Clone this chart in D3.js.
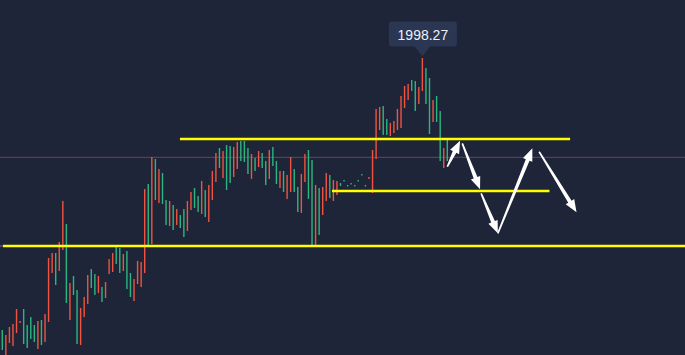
<!DOCTYPE html>
<html><head><meta charset="utf-8">
<script src="https://cdn.jsdelivr.net/npm/d3@7"></script>
<style>html,body{margin:0;padding:0;background:#1e2539;overflow:hidden}</style>
</head><body>
<svg id="chart" width="685" height="355"></svg>
<script>
// ---- data (bar index, high, low, direction 1=up/green 0=down/red) ----
const highs = [1862.27,1859.77,1863.77,1865.27,1872.77,1866.77,1872.77,1864.77,1868.77,1864.77,
1866.77,1867.27,1870.27,1898.27,1900.77,1900.77,1906.27,1926.77,1915.27,1885.77,
1889.27,1882.27,1873.27,1878.77,1889.77,1892.77,1890.27,1889.27,1883.77,1886.27,
1897.77,1900.77,1903.77,1903.27,1900.27,1901.77,1890.77,1887.77,1896.77,1896.27,
1932.77,1935.27,1948.77,1947.77,1942.77,1940.77,1927.27,1926.77,1924.77,1922.77,
1919.77,1922.77,1926.77,1931.27,1933.27,1929.27,1936.77,1932.27,1934.77,1941.77,
1950.77,1953.27,1951.77,1954.77,1954.27,1953.77,1956.27,1956.77,1956.77,1953.27,
1950.27,1948.27,1951.77,1950.77,1946.77,1952.27,1953.77,1946.77,1941.77,1941.77,
1939.77,1948.77,1942.77,1933.77,1940.27,1950.27,1952.27,1947.27,1934.77,1933.27,
1933.77,1940.77,1939.77,1937.27,1936.77,1935.77,1937.27,1934.77,1935.77,1934.77,
1937.27,1940.27,1934.77,1938.77,1952.27,1972.77,1973.77,1974.27,1967.77,1965.77,
1966.77,1972.77,1979.27,1984.27,1985.27,1987.27,1986.77,1983.77,1998.27,1993.27,
1988.27,1977.27,1979.27,1971.77,1953.27,1957.77];
const lows = [1852.27,1849.77,1855.77,1854.27,1860.77,1865.77,1855.27,1853.27,1857.77,1856.27,
1852.77,1854.77,1856.27,1866.27,1890.77,1884.77,1891.77,1902.27,1875.77,1867.27,
1879.77,1855.27,1854.77,1868.77,1875.27,1883.27,1879.77,1880.77,1876.27,1878.27,
1890.27,1891.27,1895.27,1890.77,1891.77,1882.77,1878.77,1876.77,1885.27,1883.77,
1890.77,1904.77,1905.27,1927.27,1925.77,1925.27,1914.77,1914.27,1912.27,1914.77,
1913.27,1908.77,1911.77,1922.27,1923.27,1921.27,1920.27,1918.77,1916.27,1927.27,
1936.27,1943.27,1938.27,1932.27,1935.77,1938.77,1942.77,1946.77,1946.27,1940.27,
1937.77,1941.77,1943.77,1943.27,1934.77,1937.77,1944.27,1935.27,1933.27,1931.27,
1927.77,1931.27,1931.27,1921.27,1920.77,1936.27,1927.77,1904.77,1904.77,1909.77,
1919.77,1926.77,1928.27,1926.77,1929.77,1934.27,1936.57,1934.02,1935.02,1934.02,
1936.57,1939.52,1934.02,1937.77,1930.77,1947.77,1962.27,1959.77,1959.77,1959.27,
1960.77,1962.27,1963.27,1973.27,1977.27,1981.77,1971.77,1975.27,1981.77,1975.27,
1960.27,1966.27,1966.27,1946.77,1943.27,1946.77];
const ups = [1,0,0,0,0,0,1,1,1,1, 0,1,0,0,0,1,0,0,1,0, 1,1,0,0,0,1,1,0,1,0,
0,0,1,1,0,1,1,0,0,0, 0,1,0,1,0,1,1,0,1,0, 1,1,0,0,1,1,0,1,0,0,
0,1,0,1,1,0,0,1,1,1, 0,1,0,1,1,0,1,1,0,1, 0,0,1,1,0,0,1,1,0,1,
0,0,1,0,0,1,1,1,1,1, 1,1,1,0,0,0,0,1,1,0, 0,0,0,0,0,1,1,0,0,1,
1,0,1,1,0,1];

// horizontal levels (price, start index, end index)
const levelPrices = [1957.77, 1931.77, 1904.27];
const levelStart  = [49.9, 92.6, 0.2];
const levelEnd    = [159.5, 153.7, 192];
const lastPrice = 1948.6;

// projected path arrows: [startIdx, startPrice, endIdx, endPrice]
const arrowFromIdx   = [125.0, 129.2, 134.5, 139.2, 150.8];
const arrowFromPrice = [1943.9, 1955.6, 1930.6, 1910.6, 1951.4];
const arrowToIdx     = [128.6, 134.2, 139.2, 148.9, 161.3];
const arrowToPrice   = [1956.9, 1932.6, 1910.6, 1953.1, 1921.1];

// ---- drawing ----
const W = 685, H = 355;
const svg = d3.select("#chart");
svg.append("rect").attr("width", W).attr("height", H).attr("fill", "#1e2539");

const x = d3.scaleLinear().domain([0, highs.length - 1]).range([2.3, 447.3]);
const y = d3.scaleLinear().domain([1849.77, 2027.27]).range([H, 0]);

// gray line under bottom level
svg.append("line").attr("x1", 0).attr("x2", W)
  .attr("y1", y(levelPrices[2])).attr("y2", y(levelPrices[2]))
  .attr("stroke", "#6f7486").attr("stroke-width", 1);

// last price line
svg.append("line").attr("x1", 0).attr("x2", W)
  .attr("y1", y(lastPrice)).attr("y2", y(lastPrice))
  .attr("stroke", "#6a464f").attr("stroke-width", 1);

const bars = highs.map((h, i) => ({i, h, l: lows[i], up: ups[i]}));
svg.append("g").selectAll("rect").data(bars).join("rect")
  .attr("x", d => x(d.i) - 0.7)
  .attr("width", 1.4)
  .attr("y", d => y(d.h))
  .attr("height", d => Math.max(1.5, y(d.l) - y(d.h)))
  .attr("fill", d => d.up ? "#2bb67f" : "#f0533f");

// yellow levels
svg.append("g").selectAll("line").data(levelPrices).join("line")
  .attr("x1", (p, k) => x(levelStart[k]))
  .attr("x2", (p, k) => x(levelEnd[k]))
  .attr("y1", p => y(p)).attr("y2", p => y(p))
  .attr("stroke", "#ffff00").attr("stroke-width", 2.5);

// arrows
function arrowPath(x0, y0, x1, y1) {
  const dx = x1 - x0, dy = y1 - y0, L = Math.hypot(dx, dy);
  const ux = dx / L, uy = dy / L, nx = -uy, ny = ux;
  const hl = 12.5, hw = 5, w0 = 0.8, w1 = 2;
  const bx = x1 - ux * hl, by = y1 - uy * hl;
  const pts = [
    [x0 + nx * w0, y0 + ny * w0], [bx + nx * w1, by + ny * w1], [bx + nx * hw, by + ny * hw],
    [x1, y1], [bx - nx * hw, by - ny * hw], [bx - nx * w1, by - ny * w1], [x0 - nx * w0, y0 - ny * w0]
  ];
  return "M" + pts.map(p => p[0].toFixed(2) + "," + p[1].toFixed(2)).join("L") + "Z";
}
svg.append("g").selectAll("path").data(arrowFromIdx).join("path")
  .attr("d", (a, k) => arrowPath(x(a), y(arrowFromPrice[k]), x(arrowToIdx[k]), y(arrowToPrice[k])))
  .attr("fill", "#ffffff");

// tooltip at the peak
const peakI = d3.maxIndex(highs);
const px = x(peakI), py = y(highs[peakI]);
const tip = svg.append("g");
const bw = 68, bh = 25, tipY = py - 1.5;
tip.append("rect").attr("x", px - 33.5).attr("y", tipY - 10 - bh).attr("width", bw).attr("height", bh)
  .attr("rx", 3).attr("fill", "#2a3652");
tip.append("path")
  .attr("d", `M${px - 8},${tipY - 10.5}L${px + 8},${tipY - 10.5}L${px},${tipY}Z`)
  .attr("fill", "#2a3652");
tip.append("text").attr("x", px + 0.5).attr("y", tipY - 16.5)
  .attr("text-anchor", "middle").attr("fill", "#eef1f6")
  .attr("font-family", "Liberation Sans, Arial, sans-serif").attr("font-size", 14)
  .text(d3.format(".2f")(highs[peakI]));
</script>
</body></html>
